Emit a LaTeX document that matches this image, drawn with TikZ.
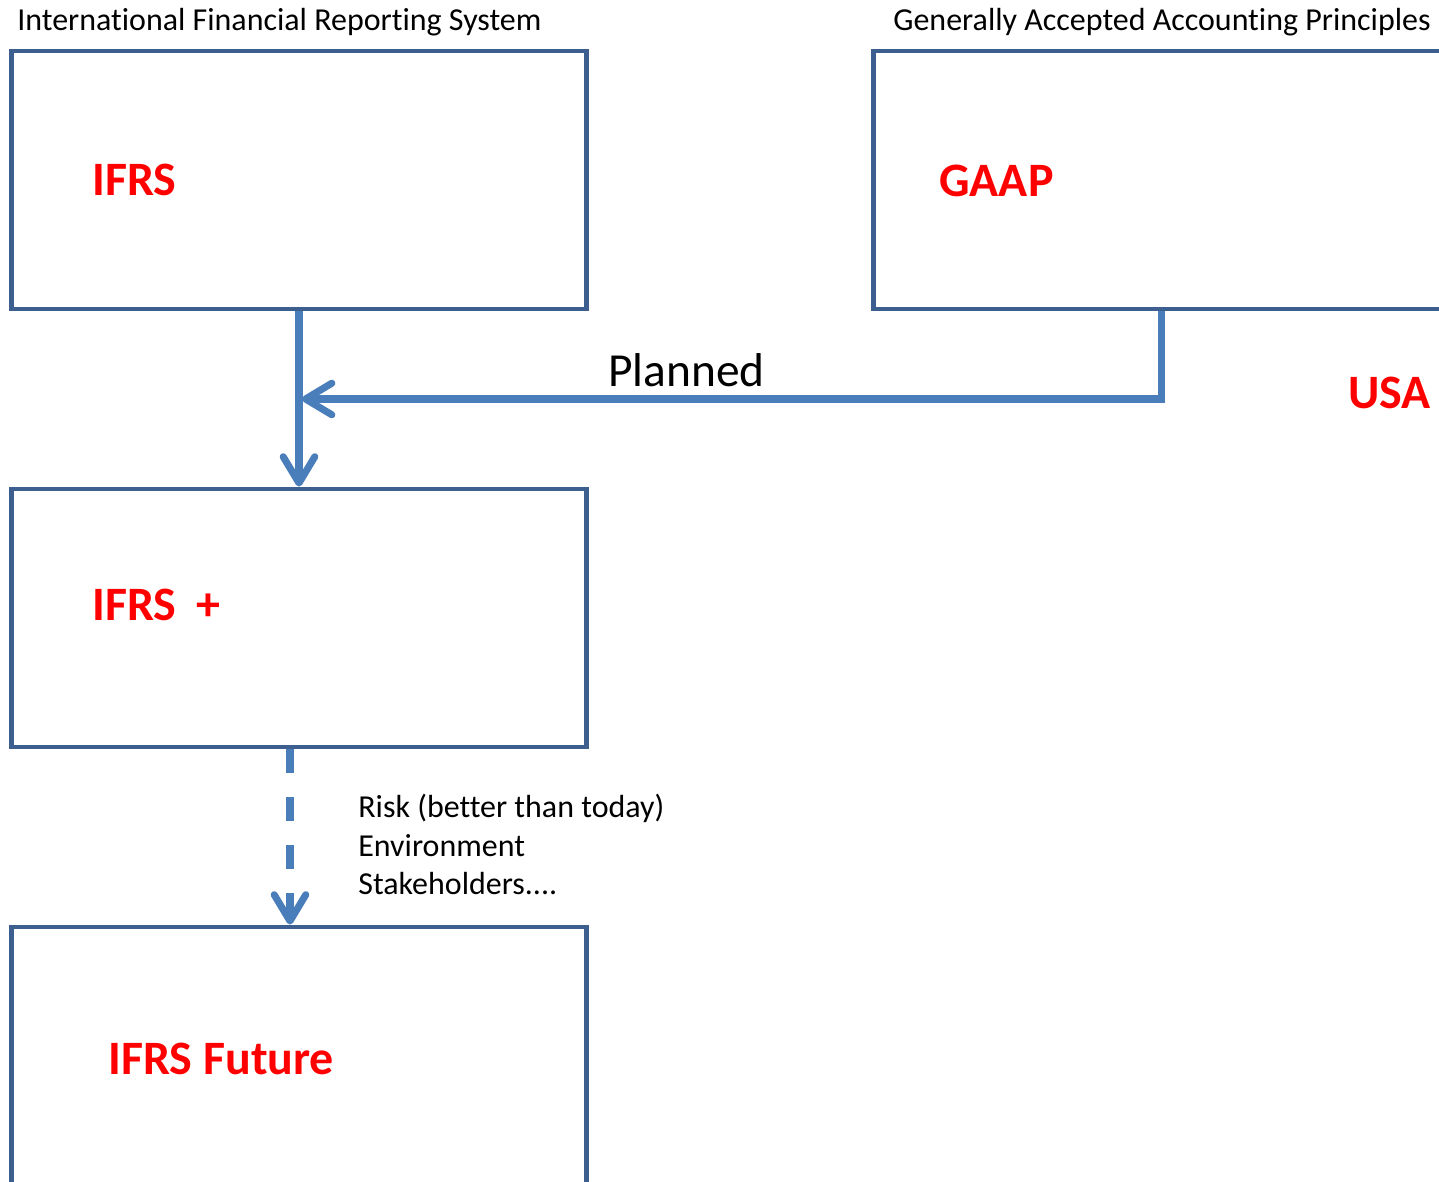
\documentclass[tikz,border=0pt]{standalone}
\usepackage{fontspec}
\setmainfont{Carlito}[Ligatures={NoCommon}]
\usetikzlibrary{arrows.meta}

\definecolor{boxblue}{HTML}{3C5F8F}
\definecolor{arrowblue}{HTML}{4A7EBB}
\definecolor{labelred}{HTML}{FF0000}

\tikzset{
    stdbox/.style={draw=boxblue, line width=2.8pt, minimum width=11.52cm, minimum height=5.16cm, inner sep=0pt},
    biglabel/.style={anchor=base west, inner sep=0pt, text=labelred, font=\fontsize{27.3}{31}\selectfont\bfseries},
    smalllabel/.style={anchor=base west, inner sep=0pt, font=\fontsize{18.2}{22}\selectfont},
    flow/.style={draw=arrowblue, line width=4pt, -{Straight Barb[length=15pt, width=18pt, round]}},
    planflow/.style={flow, dash pattern=on 13.6pt off 13.6pt}
}

\begin{document}
\begin{tikzpicture}[x=0.02cm, y=-0.02cm]
            \useasboundingbox (0,0) rectangle (1439,1182);
            \clip (0,0) rectangle (1439,1182);

            \node (ifrs) at (299,180) [stdbox] {};
            \node (gaap) at (1161,180) [stdbox] {};
            \node (plus) at (299,618) [stdbox] {};
            \node (future) at (299,1056) [stdbox] {};

            \node (ifrsname) at (17,31) [smalllabel] {International Financial Reporting System};
            \node (gaapname) at (893,31) [smalllabel] {Generally Accepted Accounting Principles};

            \node (ifrstext) at (92,196) [biglabel] {IFRS};
            \node (gaaptext) at (939,197) [biglabel] {GAAP};
            \node (plustext) at (92,620) [biglabel] {IFRS\hspace{0.42em}+};
            \node (futuretext) at (108,1074) [biglabel] {IFRS Future};
            \node (usa) at (1348,408) [biglabel] {USA};

            \node (planned) at (608,386) [smalllabel, font=\fontsize{27}{31}\selectfont] {Planned};
            \node (risk) at (358,817) [smalllabel] {Risk (better than today)};
            \node (environment) at (358,856) [smalllabel] {Environment};
            \node (stakeholders) at (358,894) [smalllabel] {Stakeholders....};

            \coordinate (join) at (302,399);

            \draw[flow] (ifrs.south) -- (plus.north);
            \draw[flow] (gaap.south) |- (join);
            \draw[planflow] ([xshift=-0.18cm]plus.south) -- ([xshift=-0.18cm]future.north);
        \end{tikzpicture}
\end{document}
